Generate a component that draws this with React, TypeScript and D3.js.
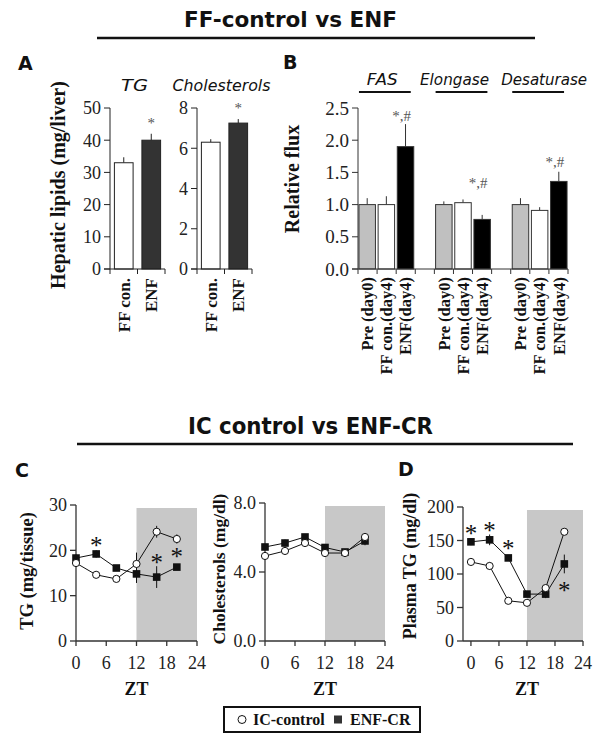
import React from 'react';
import * as d3 from 'd3';

const serif = '"Liberation Serif", "Times New Roman", serif';
const sans = '"DejaVu Sans", Verdana, sans-serif';

// ---------- Panel A ----------
const aCategories = ['FF con.', 'ENF'];
const aTG = [33, 40];
const aTGErr = [1.7, 2.0];
const aChol = [6.3, 7.25];
const aCholErr = [0.15, 0.2];
const aTGTicks = [0, 10, 20, 30, 40, 50];
const aCholTicks = [0, 2, 4, 6, 8];
const aSig = [false, true];

// ---------- Panel B ----------
const bGroups = ['FAS', 'Elongase', 'Desaturase'];
const bConditions = ['Pre (day0)', 'FF con.(day4)', 'ENF(day4)'];
const bValues = [
  [1.0, 1.0, 1.9],
  [1.0, 1.03, 0.77],
  [1.0, 0.91, 1.36],
];
const bErrors = [
  [0.1, 0.13, 0.35],
  [0.05, 0.05, 0.07],
  [0.1, 0.05, 0.15],
];
const bAnnot = ['*,#', '*,#', '*,#'];
const bAnnotLevel = [2.37, 1.33, 1.66];
const bTicks = [0, 0.5, 1.0, 1.5, 2.0, 2.5];
const bColors = ['#c0c0c0', '#ffffff', '#000000'];

// ---------- Panels C / D ----------
const zt = [0, 4, 8, 12, 16, 20];
const ztTicks = [0, 6, 12, 18, 24];
const tgControl = [17.2, 14.6, 13.7, 17.0, 24.1, 22.5];
const tgControlErr = [0.5, 0.5, 0.4, 2.5, 1.3, 1.0];
const tgEnf = [18.3, 19.2, 16.1, 14.8, 14.1, 16.3];
const tgEnfErr = [0.8, 0.8, 0.6, 2.0, 2.4, 0.6];
const tgSigLevel = [null, 21.8, null, null, 18.1, 19.4];
const tgTicks = [0, 10, 20, 30];

const cholControl = [4.93, 5.22, 5.68, 5.1, 5.1, 6.03];
const cholControlErr = [0.1, 0.1, 0.1, 0.15, 0.1, 0.1];
const cholEnf = [5.45, 5.68, 6.03, 5.42, 5.16, 5.8];
const cholEnfErr = [0.1, 0.2, 0.1, 0.15, 0.15, 0.25];
const cholTicks = [0, 4, 8];

const ptgControl = [118, 112, 60, 57, 79, 163];
const ptgControlErr = [3, 6, 3, 3, 5, 3];
const ptgEnf = [148, 151, 124, 70, 70, 115];
const ptgEnfErr = [5, 8, 4, 4, 6, 14];
const ptgSigLevel = [166, 170, 143, null, null, 80];
const ptgTicks = [0, 50, 100, 150, 200];

const legendItems = ['IC-control', 'ENF-CR'];

// ---------- helpers ----------
type YAxisProps = {
  scale: d3.ScaleLinear<number, number>;
  x: number;
  ticks: number[];
  fmt: (v: number) => string;
  fontSize: number;
  color?: string;
  width?: number;
};
function YAxis({ scale, x, ticks, fmt, fontSize, color = '#000', width = 1 }: YAxisProps) {
  const [r0, r1] = scale.range();
  return (
    <g>
      <line x1={x} x2={x} y1={r0} y2={r1} stroke={color} strokeWidth={width} />
      {ticks.map((t) => (
        <g key={t}>
          <line x1={x - 6} x2={x} y1={scale(t)} y2={scale(t)} stroke={color} strokeWidth={width} />
          <text
            x={x - 9}
            y={scale(t)}
            dy="0.35em"
            textAnchor="end"
            fontFamily={serif}
            fontSize={fontSize}
            fill="#222"
          >
            {fmt(t)}
          </text>
        </g>
      ))}
    </g>
  );
}

function BarPanelA({
  left,
  right,
  values,
  errors,
  ticks,
  max,
  title,
  titleLen,
  fmt,
}: {
  left: number;
  right: number;
  values: number[];
  errors: number[];
  ticks: number[];
  max: number;
  title: string;
  titleLen: number;
  fmt: (v: number) => string;
}) {
  const x = d3.scaleBand<string>().domain(aCategories).range([left, right]).paddingInner(0.32).paddingOuter(0.16);
  const y = d3.scaleLinear().domain([0, max]).range([269, 108]);
  const fills = ['#ffffff', '#333333'];
  return (
    <g>
      <text
        x={(left + right) / 2 - 3}
        y={91}
        textAnchor="middle"
        fontFamily={sans}
        fontStyle="italic"
        fontSize={15}
        textLength={titleLen}
        lengthAdjust="spacingAndGlyphs"
        fill="#111"
      >
        {title}
      </text>
      {aCategories.map((c, i) => (
        <g key={c}>
          <line
            x1={(x(c) as number) + x.bandwidth() / 2}
            x2={(x(c) as number) + x.bandwidth() / 2}
            y1={y(values[i])}
            y2={y(values[i] + errors[i])}
            stroke="#222"
            strokeWidth={1}
          />
          <rect
            x={x(c)}
            y={y(values[i])}
            width={x.bandwidth()}
            height={y(0) - y(values[i])}
            fill={fills[i]}
            stroke="#222"
            strokeWidth={1}
          />
          {aSig[i] && (
            <text
              x={(x(c) as number) + x.bandwidth() / 2}
              y={y(values[i] + errors[i]) - 6}
              textAnchor="middle"
              fontFamily={serif}
              fontSize={15}
              fill="#555"
            >
              *
            </text>
          )}
          <text
            transform={`translate(${(x(c) as number) + x.bandwidth() / 2},${278}) rotate(-90)`}
            textAnchor="end"
            dy="0.35em"
            fontFamily={serif}
            fontWeight="bold"
            fontSize={17}
            fill="#111"
          >
            {c}
          </text>
        </g>
      ))}
      <line x1={left - 6} x2={right} y1={269} y2={269} stroke="#222" />
      {[left, left + (right - left) / 2, right].map((b, i) => (
        <line key={i} x1={b} x2={b} y1={269} y2={274} stroke="#222" />
      ))}
      <YAxis scale={y} x={left} ticks={ticks} fmt={fmt} fontSize={18} color="#222" />
    </g>
  );
}

function LinePanel({
  xRange,
  xDomainMin,
  yScale,
  ticks,
  fmt,
  control,
  controlErr,
  enf,
  enfErr,
  sigLevel,
}: {
  xRange: [number, number];
  xDomainMin: number;
  yScale: d3.ScaleLinear<number, number>;
  ticks: number[];
  fmt: (v: number) => string;
  control: number[];
  controlErr: number[];
  enf: number[];
  enfErr: number[];
  sigLevel: (number | null)[];
}) {
  const x = d3.scaleLinear().domain([xDomainMin, 24]).range(xRange);
  const y = yScale;
  const y0 = y.range()[0];
  const yTop = y.range()[1];
  const line = d3
    .line<number>()
    .x((_, i) => x(zt[i]))
    .y((d) => y(d));
  const axisColor = '#333';
  return (
    <g>
      <rect x={x(12)} y={yTop + 3} width={x(24) - x(12)} height={y0 - yTop - 3} fill="#c8c8c8" />
      <YAxis scale={y} x={xRange[0]} ticks={ticks} fmt={fmt} fontSize={18} color={axisColor} width={1.3} />
      <line x1={xRange[0]} x2={xRange[1]} y1={y0} y2={y0} stroke={axisColor} strokeWidth={1.3} />
      {ztTicks.map((t) => (
        <g key={t}>
          <line x1={x(t)} x2={x(t)} y1={y0} y2={y0 + 5} stroke={axisColor} strokeWidth={1.3} />
          <text x={x(t)} y={y0 + 28} textAnchor="middle" fontFamily={serif} fontSize={18} fill="#222">
            {t}
          </text>
        </g>
      ))}
      <text
        x={(x(0) + x(24)) / 2}
        y={y0 + 54}
        textAnchor="middle"
        fontFamily={serif}
        fontWeight="bold"
        fontSize={18}
        fill="#111"
      >
        ZT
      </text>
      {zt.map((t, i) => (
        <g key={'e' + t}>
          <line x1={x(t)} x2={x(t)} y1={y(control[i] - controlErr[i])} y2={y(control[i] + controlErr[i])} stroke="#111" />
          <line x1={x(t)} x2={x(t)} y1={y(enf[i] - enfErr[i])} y2={y(enf[i] + enfErr[i])} stroke="#111" />
        </g>
      ))}
      <path d={line(control) || ''} fill="none" stroke="#111" strokeWidth={1} />
      <path d={line(enf) || ''} fill="none" stroke="#111" strokeWidth={1} />
      {zt.map((t, i) => (
        <g key={'m' + t}>
          <rect x={x(t) - 3.8} y={y(enf[i]) - 3.8} width={7.6} height={7.6} fill="#111" />
          <circle cx={x(t)} cy={y(control[i])} r={3.6} fill="#fff" stroke="#111" strokeWidth={1} />
        </g>
      ))}
      {zt.map((t, i) =>
        sigLevel[i] == null ? null : (
          <text
            key={'s' + t}
            x={x(t)}
            y={y(sigLevel[i] as number) + 12}
            textAnchor="middle"
            fontFamily={serif}
            fontSize={25}
            fill="#111"
          >
            *
          </text>
        )
      )}
    </g>
  );
}

export default function App() {
  // Panel B scales
  const bKeys: string[] = [];
  bGroups.forEach((g, gi) => {
    bConditions.forEach((c) => bKeys.push(g + '|' + c));
    if (gi < bGroups.length - 1) bKeys.push('gap' + gi);
  });
  const bx = d3.scaleBand<string>().domain(bKeys).range([358, 568]).paddingInner(0.14).paddingOuter(0.05);
  const by = d3.scaleLinear().domain([0, 2.5]).range([269, 108]);
  const bStep = (568 - 358) / bKeys.length;
  const bBounds = d3.range(bKeys.length + 1).map((i) => 358 + i * bStep);
  // layout tweaks for the group titles (shift, width)
  const bTitleShift = [-4, -8.5, 4.5];
  const bTitleLen = [31, 69, 86];

  const cTG = d3.scaleLinear().domain([0, 30]).range([641, 505]);
  const cChol = d3.scaleLinear().domain([0, 8]).range([641, 503]);
  const dTG = d3.scaleLinear().domain([0, 200]).range([641, 507]);

  const legendX = 224;
  const legendY = 707;

  return (
    <svg
      width={600}
      height={745}
      style={{ position: 'absolute', left: 0, top: 0, background: '#fff' }}
      xmlns="http://www.w3.org/2000/svg"
    >
      <rect width={600} height={745} fill="#fff" />
      {/* Titles */}
      <text x={184} y={27} fontFamily={sans} fontWeight="bold" fontSize={22} textLength={213} lengthAdjust="spacingAndGlyphs" fill="#111">
        FF-control vs ENF
      </text>
      <line x1={97} x2={535} y1={38} y2={38} stroke="#111" strokeWidth={2.5} />
      <text x={188} y={434} fontFamily={sans} fontWeight="bold" fontSize={23} textLength={245} lengthAdjust="spacingAndGlyphs" fill="#111">
        IC control vs ENF-CR
      </text>
      <line x1={77} x2={573} y1={444} y2={444} stroke="#111" strokeWidth={2.5} />

      {/* Panel letters */}
      <text x={18} y={70} fontFamily={sans} fontWeight="bold" fontSize={19} fill="#111">A</text>
      <text x={283} y={69} fontFamily={sans} fontWeight="bold" fontSize={19} fill="#111">B</text>
      <text x={15} y={477} fontFamily={sans} fontWeight="bold" fontSize={19} fill="#111">C</text>
      <text x={398} y={476} fontFamily={sans} fontWeight="bold" fontSize={19} fill="#111">D</text>

      {/* Panel A */}
      <text
        transform="translate(58,185) rotate(-90)"
        textAnchor="middle"
        dy="0.35em"
        fontFamily={serif}
        fontWeight="bold"
        fontSize={20}
        fill="#111"
      >
        Hepatic lipids (mg/liver)
      </text>
      <BarPanelA left={110} right={165} values={aTG} errors={aTGErr} ticks={aTGTicks} max={50} title="TG" titleLen={27} fmt={(v) => String(v)} />
      <BarPanelA left={197} right={252} values={aChol} errors={aCholErr} ticks={aCholTicks} max={8} title="Cholesterols" titleLen={98} fmt={(v) => String(v)} />

      {/* Panel B */}
      <text
        transform="translate(292,179) rotate(-90)"
        textAnchor="middle"
        dy="0.35em"
        fontFamily={serif}
        fontWeight="bold"
        fontSize={20}
        fill="#111"
      >
        Relative flux
      </text>
      {bGroups.map((g, gi) => {
        const first = bx(g + '|' + bConditions[0]) as number;
        const last = (bx(g + '|' + bConditions[2]) as number) + bx.bandwidth();
        const cx = (first + last) / 2;
        return (
          <g key={g}>
            <text
              x={cx + bTitleShift[gi]}
              y={85}
              textAnchor="middle"
              fontFamily={sans}
              fontStyle="italic"
              fontSize={15}
              textLength={bTitleLen[gi]}
              lengthAdjust="spacingAndGlyphs"
              fill="#111"
            >
              {g}
            </text>
            <line x1={first} x2={last - 3} y1={92} y2={92} stroke="#111" strokeWidth={2} />
            {bConditions.map((c, ci) => {
              const k = g + '|' + c;
              const bxv = bx(k) as number;
              const mid = bxv + bx.bandwidth() / 2;
              const v = bValues[gi][ci];
              const e = bErrors[gi][ci];
              return (
                <g key={k}>
                  <line x1={mid} x2={mid} y1={by(v)} y2={by(v + e)} stroke="#333" strokeWidth={1} />
                  <rect x={bxv} y={by(v)} width={bx.bandwidth()} height={by(0) - by(v)} fill={bColors[ci]} stroke="#333" strokeWidth={1} />
                  <text
                    transform={`translate(${mid},277) rotate(-90)`}
                    textAnchor="end"
                    dy="0.35em"
                    fontFamily={serif}
                    fontWeight="bold"
                    fontSize={16.5}
                    fill="#111"
                  >
                    {c}
                  </text>
                </g>
              );
            })}
            <text
              x={(bx(g + '|' + bConditions[2]) as number) + bx.bandwidth() / 2 - 4}
              y={by(bAnnotLevel[gi]) + 5}
              textAnchor="middle"
              fontFamily={serif}
              fontSize={15}
              fill="#555"
            >
              {bAnnot[gi]}
            </text>
          </g>
        );
      })}
      <line x1={352} x2={568} y1={269} y2={269} stroke="#333" />
      {bBounds.map((b, i) => (
        <line key={i} x1={b} x2={b} y1={269} y2={274} stroke="#333" />
      ))}
      <YAxis scale={by} x={358} ticks={bTicks} fmt={d3.format('.1f')} fontSize={19} color="#333" />

      {/* Panel C */}
      <text transform="translate(27,571) rotate(-90)" textAnchor="middle" dy="0.35em" fontFamily={serif} fontWeight="bold" fontSize={18.5} fill="#111">
        TG (mg/tissue)
      </text>
      <LinePanel
        xRange={[76, 197]}
        xDomainMin={0}
        yScale={cTG}
        ticks={tgTicks}
        fmt={(v) => String(v)}
        control={tgControl}
        controlErr={tgControlErr}
        enf={tgEnf}
        enfErr={tgEnfErr}
        sigLevel={tgSigLevel}
      />
      <text transform="translate(219,569) rotate(-90)" textAnchor="middle" dy="0.35em" fontFamily={serif} fontWeight="bold" fontSize={17.5} fill="#111">
        Cholesterols (mg/dl)
      </text>
      <LinePanel
        xRange={[265, 385]}
        xDomainMin={0}
        yScale={cChol}
        ticks={cholTicks}
        fmt={d3.format('.1f')}
        control={cholControl}
        controlErr={cholControlErr}
        enf={cholEnf}
        enfErr={cholEnfErr}
        sigLevel={[null, null, null, null, null, null]}
      />

      {/* Panel D */}
      <text transform="translate(410,566) rotate(-90)" textAnchor="middle" dy="0.35em" fontFamily={serif} fontWeight="bold" fontSize={18} fill="#111">
        Plasma TG (mg/dl)
      </text>
      <LinePanel
        xRange={[463, 583]}
        xDomainMin={-1.7}
        yScale={dTG}
        ticks={ptgTicks}
        fmt={(v) => String(v)}
        control={ptgControl}
        controlErr={ptgControlErr}
        enf={ptgEnf}
        enfErr={ptgEnfErr}
        sigLevel={ptgSigLevel}
      />

      {/* Legend */}
      <g>
        <rect x={legendX} y={legendY} width={196} height={25} fill="#fff" stroke="#111" strokeWidth={2} />
        <circle cx={legendX + 18} cy={legendY + 12.5} r={4} fill="#fff" stroke="#111" />
        <text x={legendX + 29} y={legendY + 18} fontFamily={serif} fontWeight="bold" fontSize={16} fill="#111">
          {legendItems[0]}
        </text>
        <rect x={legendX + 110} y={legendY + 8.5} width={8} height={8} fill="#333" />
        <text x={legendX + 126} y={legendY + 18} fontFamily={serif} fontWeight="bold" fontSize={16} fill="#111">
          {legendItems[1]}
        </text>
      </g>
    </svg>
  );
}
